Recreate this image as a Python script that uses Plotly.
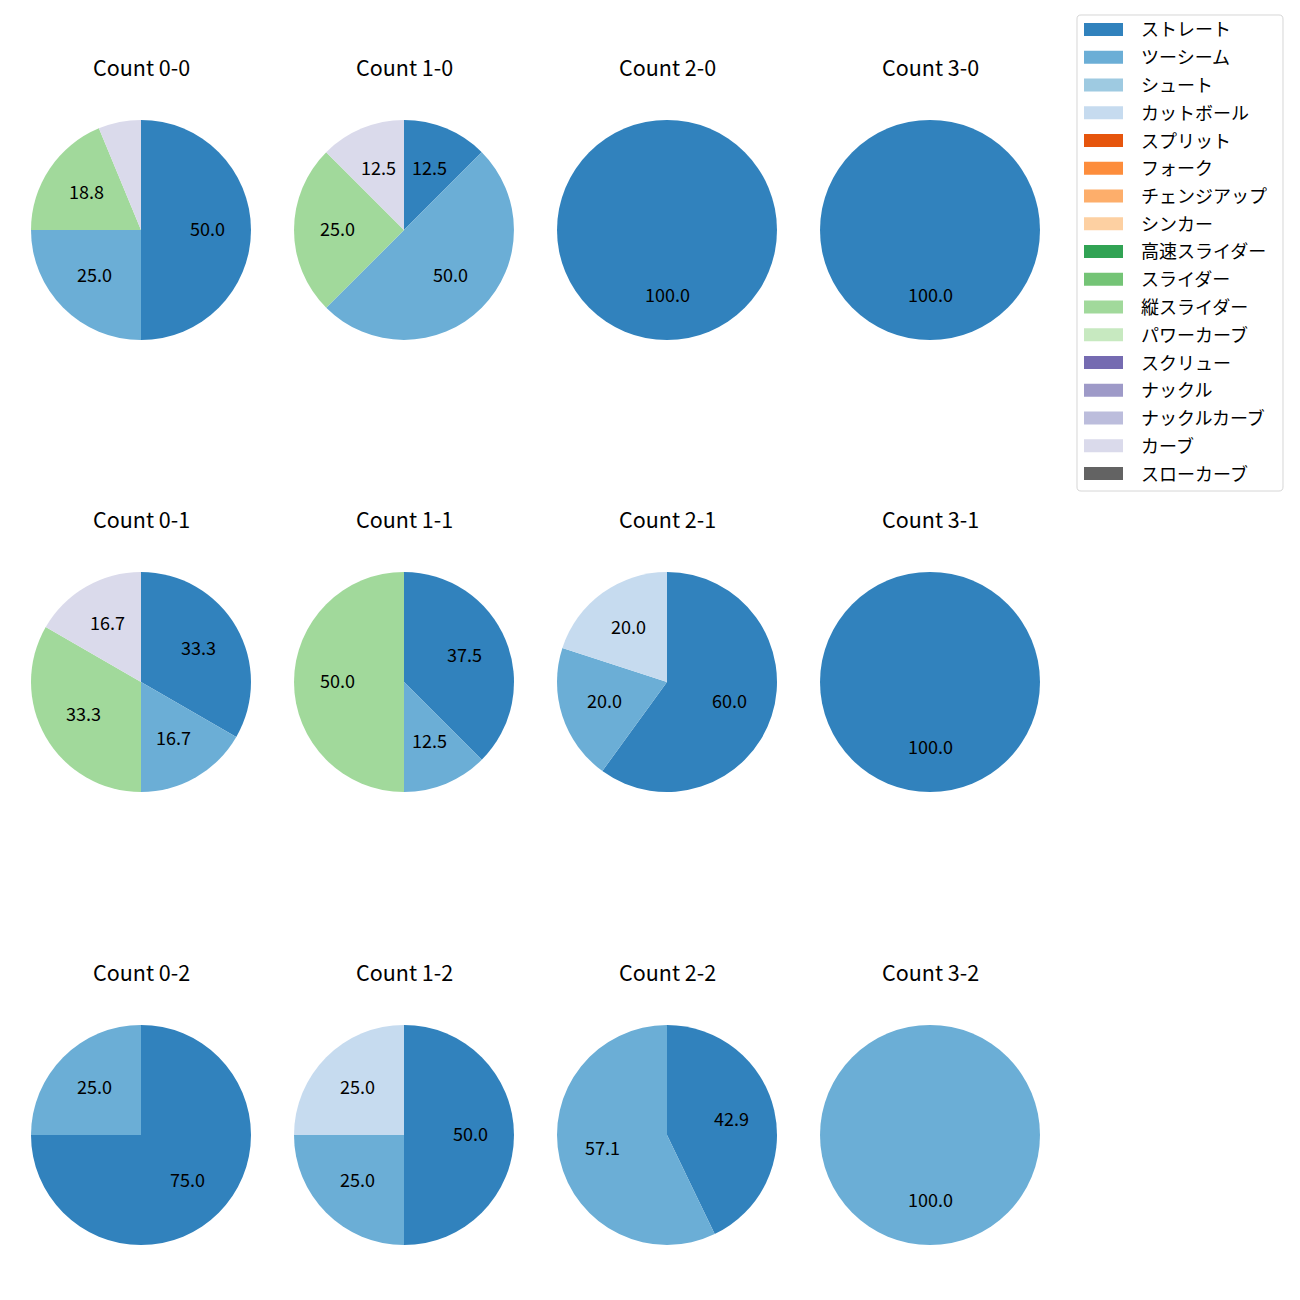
import plotly.graph_objects as go
import math

pitch_types = ["ストレート", "ツーシーム", "シュート", "カットボール", "スプリット", "フォーク",
               "チェンジアップ", "シンカー", "高速スライダー", "スライダー", "縦スライダー",
               "パワーカーブ", "スクリュー", "ナックル", "ナックルカーブ", "カーブ", "スローカーブ"]
colors = ["#3182bd", "#6baed6", "#9ecae1", "#c6dbef", "#e6550d", "#fd8d3c", "#fdae6b", "#fdd0a2",
          "#31a354", "#74c476", "#a1d99b", "#c7e9c0", "#756bb1", "#9e9ac8", "#bcbddc", "#dadaeb",
          "#636363"]

# counts per pitch type for each ball-strike count
count_labels = ["0-0", "1-0", "2-0", "3-0", "0-1", "1-1", "2-1", "3-1", "0-2", "1-2", "2-2", "3-2"]
count_0_0 = {"ストレート": 8, "ツーシーム": 4, "縦スライダー": 3, "カーブ": 1}
count_1_0 = {"ストレート": 1, "ツーシーム": 4, "縦スライダー": 2, "カーブ": 1}
count_2_0 = {"ストレート": 2}
count_3_0 = {"ストレート": 1}
count_0_1 = {"ストレート": 2, "ツーシーム": 1, "縦スライダー": 2, "カーブ": 1}
count_1_1 = {"ストレート": 3, "ツーシーム": 1, "縦スライダー": 4}
count_2_1 = {"ストレート": 3, "ツーシーム": 1, "カットボール": 1}
count_3_1 = {"ストレート": 1}
count_0_2 = {"ストレート": 3, "ツーシーム": 1}
count_1_2 = {"ストレート": 2, "ツーシーム": 1, "カットボール": 1}
count_2_2 = {"ストレート": 3, "ツーシーム": 4}
count_3_2 = {"ツーシーム": 1}
all_counts = [count_0_0, count_1_0, count_2_0, count_3_0, count_0_1, count_1_1,
              count_2_1, count_3_1, count_0_2, count_1_2, count_2_2, count_3_2]

OFF = 8            # page body margin
W = H = 1300 - 2 * OFF
FONT = "Noto Sans CJK JP"
col_cx = [141, 404, 667, 930]
row_cy = [230, 682, 1135]
R = 110
TXT_DY = -2.5      # compensate font vertical metrics
color_map = dict(zip(pitch_types, colors))


def px(x):
    return (x - OFF) / W


def py(y):
    return 1 - (y - OFF) / H


fig = go.Figure()
annotations = []
shapes = []

for i, (lab, cnt) in enumerate(zip(count_labels, all_counts)):
    r, c = divmod(i, 4)
    cx, cy = col_cx[c], row_cy[r]
    labels = [p for p in pitch_types if cnt.get(p, 0) > 0]
    values = [cnt[p] for p in labels]
    total = sum(values)
    fig.add_trace(go.Pie(
        labels=labels, values=values, sort=False, direction="clockwise", rotation=0,
        marker=dict(colors=[color_map[p] for p in labels], line=dict(width=0)),
        textinfo="none", hoverinfo="label+percent", showlegend=False,
        domain=dict(x=[px(cx - R), px(cx + R)], y=[py(cy + R), py(cy - R)]),
    ))
    annotations.append(dict(x=px(cx), y=py(cy - 161 + TXT_DY), xref="paper", yref="paper",
                            xanchor="center", yanchor="middle",
                            text=f"Count {lab}", showarrow=False,
                            font=dict(size=21.5, color="black", family=FONT)))
    cum = 0
    for p, v in zip(labels, values):
        pct = 100 * v / total
        mid = math.radians(90 - 360 * (cum + v / 2) / total)
        cum += v
        if pct < 10:
            continue
        lx = cx + 0.6 * R * math.cos(mid)
        ly = cy - 0.6 * R * math.sin(mid)
        annotations.append(dict(x=px(lx), y=py(ly + TXT_DY), xref="paper", yref="paper",
                                xanchor="center", yanchor="middle",
                                text=f"{pct:.1f}", showarrow=False,
                                font=dict(size=18, color="black", family=FONT)))

# legend (matplotlib-like)
lx0, lx1, ly0, ly1 = 1077, 1283, 15, 491
rad = 4


def pp(x, y):
    return f"{px(x):.5f} {py(y):.5f}"


path = (f"M {pp(lx0+rad, ly0)} L {pp(lx1-rad, ly0)} Q {pp(lx1, ly0)} {pp(lx1, ly0+rad)} "
        f"L {pp(lx1, ly1-rad)} Q {pp(lx1, ly1)} {pp(lx1-rad, ly1)} L {pp(lx0+rad, ly1)} "
        f"Q {pp(lx0, ly1)} {pp(lx0, ly1-rad)} L {pp(lx0, ly0+rad)} Q {pp(lx0, ly0)} {pp(lx0+rad, ly0)} Z")
shapes.append(dict(type="path", path=path, xref="paper", yref="paper",
                   line=dict(color="#d6d6d6", width=1), fillcolor="white", layer="below"))
row0, step = 29.5, 27.75
for k, (p, col) in enumerate(zip(pitch_types, colors)):
    y = row0 + k * step
    shapes.append(dict(type="rect", xref="paper", yref="paper",
                       x0=px(1084), x1=px(1123), y0=py(y - 6.5), y1=py(y + 6.5),
                       fillcolor=col, line=dict(width=0)))
    annotations.append(dict(x=px(1139), y=py(y - 1), xref="paper", yref="paper",
                            text=p, showarrow=False, xanchor="left", yanchor="middle",
                            font=dict(size=18, color="black", family=FONT)))

fig.update_layout(width=W, height=H, margin=dict(l=0, r=0, t=0, b=0),
                  paper_bgcolor="white", plot_bgcolor="white",
                  annotations=annotations, shapes=shapes, showlegend=False,
                  font=dict(family=FONT))
fig.write_html("out.html")
